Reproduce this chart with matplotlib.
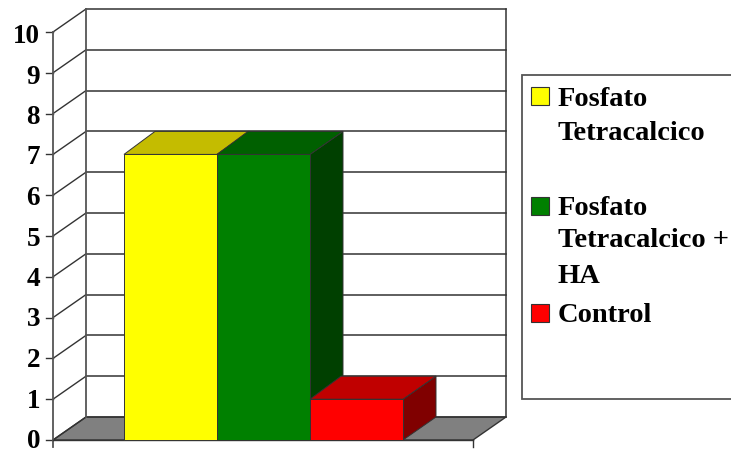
import matplotlib
matplotlib.use('Agg')
import matplotlib.pyplot as plt
from matplotlib.patches import Polygon, Rectangle

legend_labels = ['Fosfato\nTetracalcico', 'Fosfato\nTetracalcico +\nHA', 'Control']
series_values = [7, 7, 1]
y_ticks = list(range(0, 11))

front_colors = ['#ffff00', '#008000', '#ff0000']
top_colors = ['#c4bc00', '#006000', '#c00000']
side_colors = ['#808000', '#004000', '#800000']

# pixel sizes of the pseudo 3D box
PX_PER_UNIT = 40.8
ZERO_PX = 440
DEPTH_X = 33
DEPTH_Y = 23 / PX_PER_UNIT
FRONT_LEFT = 53
FRONT_RIGHT = 473
BAR_LEFT = 124
BAR_WIDTH = 93
EDGE = '#333333'

plt.rcParams['font.family'] = ['Liberation Serif', 'DejaVu Serif']

fig = plt.figure(figsize=(7.31, 4.51), dpi=100)
ax = fig.add_axes([0, 0, 1, 1])
ax.set_xlim(0, 731)
ax.set_ylim((ZERO_PX - 451) / PX_PER_UNIT, ZERO_PX / PX_PER_UNIT)
ax.axis('off')


def px_y(py):
    return (ZERO_PX - py) / PX_PER_UNIT


top = max(y_ticks)

# floor
ax.add_patch(Polygon([(FRONT_LEFT, 0), (FRONT_RIGHT, 0),
                      (FRONT_RIGHT + DEPTH_X, DEPTH_Y), (FRONT_LEFT + DEPTH_X, DEPTH_Y)],
                     facecolor='#808080', edgecolor=EDGE, lw=1, zorder=1))

# side wall, back wall and gridlines
for v in y_ticks:
    ax.plot([FRONT_LEFT, FRONT_LEFT + DEPTH_X], [v, v + DEPTH_Y], color=EDGE, lw=1, zorder=2)
    ax.plot([FRONT_LEFT + DEPTH_X, FRONT_RIGHT + DEPTH_X], [v + DEPTH_Y, v + DEPTH_Y],
            color=EDGE, lw=1.1, zorder=2)
    ax.plot([FRONT_LEFT - 7, FRONT_LEFT], [v, v], color=EDGE, lw=1, zorder=2)
    # label spacing is a touch tighter than the tick spacing
    ax.text(40, px_y(448 - 40.5 * v), str(v), ha='right', va='baseline',
            fontsize=19.5, fontweight='bold', color='black')

ax.plot([FRONT_LEFT + DEPTH_X] * 2, [DEPTH_Y, top + DEPTH_Y], color='#555555', lw=1.3, zorder=2)
ax.plot([FRONT_RIGHT + DEPTH_X] * 2, [DEPTH_Y, top + DEPTH_Y], color=EDGE, lw=1.1, zorder=2)
ax.plot([FRONT_LEFT] * 2, [px_y(447), top], color='#555555', lw=1.3, zorder=2)

# front edge of the floor with its closing tick
ax.plot([FRONT_LEFT, FRONT_RIGHT], [0, 0], color=EDGE, lw=1, zorder=2)
ax.plot([FRONT_RIGHT, FRONT_RIGHT], [px_y(447), 0], color=EDGE, lw=1, zorder=2)

# bars, left to right so each one overlaps the side of the previous
for i, val in enumerate(series_values):
    x0 = BAR_LEFT + i * BAR_WIDTH
    x1 = x0 + BAR_WIDTH
    z = 3 + i
    ax.add_patch(Polygon([(x1, 0), (x1 + DEPTH_X, DEPTH_Y), (x1 + DEPTH_X, val + DEPTH_Y), (x1, val)],
                         facecolor=side_colors[i], edgecolor=EDGE, lw=0.7, zorder=z))
    ax.add_patch(Polygon([(x0, val), (x1, val), (x1 + DEPTH_X, val + DEPTH_Y), (x0 + DEPTH_X - 2, val + DEPTH_Y)],
                         facecolor=top_colors[i], edgecolor=EDGE, lw=0.7, zorder=z))
    ax.add_patch(Rectangle((x0, 0), BAR_WIDTH, val,
                           facecolor=front_colors[i], edgecolor=EDGE, lw=0.7, zorder=z))

# legend box runs off the right side of the canvas
ax.add_patch(Rectangle((522, px_y(399)), 240, px_y(75) - px_y(399),
                       facecolor='white', edgecolor='#555555', lw=1.3, zorder=6))

swatch_tops = [87, 197, 304]
text_baselines = [[106, 140], [215, 247, 283], [322]]
for i, label in enumerate(legend_labels):
    ax.add_patch(Rectangle((531, px_y(swatch_tops[i] + 18)), 18, 18 / PX_PER_UNIT,
                           facecolor=front_colors[i], edgecolor=EDGE, lw=0.8, zorder=7))
    for line, base in zip(label.split('\n'), text_baselines[i]):
        ax.text(558, px_y(base), line, ha='left', va='baseline',
                fontsize=20.5, fontweight='bold', color='black', zorder=7)

fig.savefig('out.png', dpi=100)
